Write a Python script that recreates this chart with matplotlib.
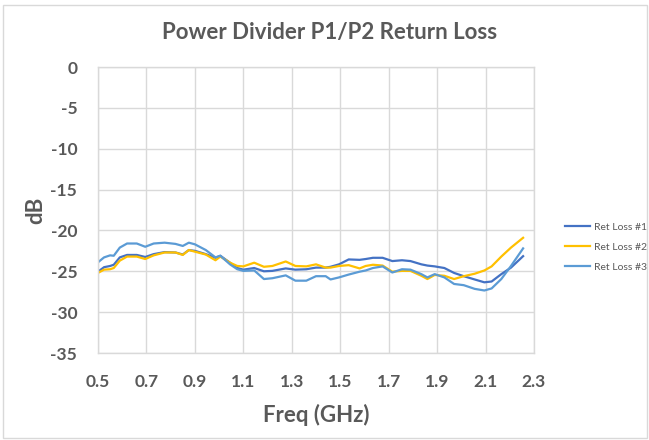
import matplotlib
matplotlib.use("Agg")
import matplotlib.pyplot as plt
from matplotlib.patches import Rectangle

freq = [0.50, 0.525, 0.55, 0.565, 0.59, 0.62, 0.66, 0.695, 0.73, 0.775, 0.82, 0.85, 0.875, 0.90,
        0.945, 0.985, 1.005, 1.045, 1.075, 1.10, 1.145, 1.185, 1.22, 1.275, 1.315, 1.36, 1.40,
        1.44, 1.46, 1.495, 1.535, 1.58, 1.605, 1.635, 1.675, 1.715, 1.755, 1.79, 1.835, 1.86,
        1.89, 1.93, 1.97, 2.01, 2.055, 2.095, 2.125, 2.165, 2.205, 2.255]

ret_loss_1 = [-25.05, -24.5, -24.35, -24.2, -23.3, -23.0, -23.0, -23.25, -22.9, -22.65, -22.7, -22.95,
              -22.4, -22.5, -22.9, -23.35, -23.1, -23.95, -24.6, -24.8, -24.6, -25.0, -24.95, -24.65,
              -24.8, -24.75, -24.55, -24.55, -24.45, -24.15, -23.55, -23.6, -23.5, -23.35, -23.35,
              -23.75, -23.65, -23.75, -24.15, -24.3, -24.4, -24.6, -25.2, -25.6, -26.0, -26.35,
              -26.25, -25.35, -24.55, -23.15]

ret_loss_2 = [-25.2, -24.8, -24.75, -24.6, -23.7, -23.2, -23.2, -23.5, -23.05, -22.7, -22.7, -23.0,
              -22.4, -22.6, -22.95, -23.65, -23.2, -23.95, -24.35, -24.4, -23.95, -24.45, -24.35,
              -23.8, -24.35, -24.4, -24.15, -24.55, -24.55, -24.35, -24.25, -24.65, -24.35, -24.2,
              -24.3, -25.05, -24.95, -24.95, -25.55, -25.95, -25.45, -25.55, -25.95, -25.6, -25.3,
              -24.9, -24.4, -23.2, -22.1, -20.9]

ret_loss_3 = [-23.9, -23.3, -23.05, -23.1, -22.1, -21.6, -21.6, -22.0, -21.6, -21.5, -21.65, -21.9,
              -21.5, -21.7, -22.4, -23.3, -23.1, -24.15, -24.75, -24.95, -24.9, -25.95, -25.85,
              -25.5, -26.15, -26.15, -25.6, -25.6, -26.0, -25.75, -25.4, -25.05, -24.9, -24.6,
              -24.4, -25.15, -24.75, -24.8, -25.35, -25.75, -25.35, -25.75, -26.55, -26.7, -27.15,
              -27.35, -27.1, -25.95, -24.35, -22.2]

series_names = ["Ret Loss #1", "Ret Loss #2", "Ret Loss #3"]
x_ticks = [0.5, 0.7, 0.9, 1.1, 1.3, 1.5, 1.7, 1.9, 2.1, 2.3]
y_ticks = [0, -5, -10, -15, -20, -25, -30, -35]

colors = ["#4472C4", "#FFC000", "#5B9BD5"]
txt = "#595959"
grid_c = "#D9D9D9"
FONT = "Lato"

W, H = 649, 440
fig = plt.figure(figsize=(W / 100, H / 100), dpi=100)
fig.patches.append(Rectangle((3 / W, 2 / H), (W - 5) / W, (H - 7) / H, transform=fig.transFigure,
                             fill=False, edgecolor=grid_c, linewidth=1))

ax = fig.add_axes([98 / W, 1 - 353 / H, (534 - 98) / W, (353 - 67) / H])
for name, vals, c in zip(series_names, [ret_loss_1, ret_loss_2, ret_loss_3], colors):
    ax.plot(freq, vals, color=c, linewidth=1.6, label=name, solid_joinstyle="round")

ax.set_xlim(0.5, 2.3)
ax.set_ylim(-35, 0)
ax.set_xticks(x_ticks)
ax.set_yticks(y_ticks)
ax.set_xticklabels([f"{v:.1f}" for v in x_ticks], fontfamily=FONT, fontweight="bold",
                   fontsize=12.5, color=txt)
ax.set_yticklabels([str(v) for v in y_ticks], fontfamily=FONT, fontweight="bold",
                   fontsize=12.5, color=txt)
ax.tick_params(axis="both", length=0)
ax.tick_params(axis="x", pad=15)
ax.tick_params(axis="y", pad=15)
ax.grid(True, color=grid_c, linewidth=1)
ax.set_axisbelow(True)
for s in ax.spines.values():
    s.set_color(grid_c)
    s.set_linewidth(1)

ax.set_xlabel("Freq (GHz)", fontfamily=FONT, fontweight="bold", fontsize=16, color=txt, labelpad=10)
ax.set_ylabel("dB", fontfamily=FONT, fontweight="bold", fontsize=16, color=txt, labelpad=3)

fig.text(330 / W, 1 - 33 / H, "Power Divider P1/P2 Return Loss", ha="center", va="center",
         fontfamily=FONT, fontweight="bold", fontsize=16, color=txt)

leg = fig.legend(loc="upper left", bbox_to_anchor=(556 / W, 1 - 213 / H), frameon=False,
                 prop={"family": FONT, "size": 7.5}, handlelength=2.4, handletextpad=0.3,
                 labelspacing=1.05)
for t in leg.get_texts():
    t.set_color(txt)

fig.savefig("out.png", dpi=100)
